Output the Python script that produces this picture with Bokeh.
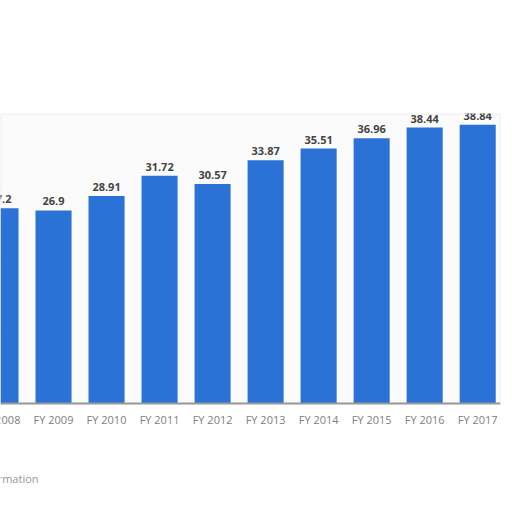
from bokeh.plotting import figure
from bokeh.models import (ColumnDataSource, FixedTicker, Range1d, LabelSet, Label,
                          Span, BoxAnnotation)
from bokeh.core.properties import value
from bokeh.embed import file_html
from bokeh.resources import INLINE

categories = ["FY 2008", "FY 2009", "FY 2010", "FY 2011", "FY 2012",
              "FY 2013", "FY 2014", "FY 2015", "FY 2016", "FY 2017"]
values = [27.2, 26.9, 28.91, 31.72, 30.57, 33.87, 35.51, 36.96, 38.44, 38.84]
labels = ["27.2", "26.9", "28.91", "31.72", "30.57", "33.87", "35.51", "36.96", "38.44", "38.84"]
y_ticks = [10, 20, 30, 40]
footer = "Additional Information"

xs = list(range(len(categories)))
src = ColumnDataSource(dict(x=xs, top=values, label=labels, cat=categories,
                            zero=[0] * len(xs)))

y_top = 40.4
p = figure(width=504, height=496, output_backend="svg", toolbar_location=None,
           x_range=Range1d(0.0, 9.43), y_range=Range1d(-12.96, y_top),
           x_axis_location=None, y_axis_location=None,
           min_border_left=0, min_border_right=4, min_border_top=113, min_border_bottom=0)

p.background_fill_color = "white"
p.border_fill_color = "white"
p.outline_line_color = None

# chart panel
p.add_layout(BoxAnnotation(bottom=0, top=y_top, fill_color="#fbfbfb", fill_alpha=1.0,
                           line_color="#cccccc", line_width=2, level="underlay"))

p.ygrid.ticker = FixedTicker(ticks=y_ticks)
p.ygrid.grid_line_color = "#cccccc"
p.ygrid.grid_line_dash = "1 2"
p.xgrid.visible = False

p.vbar(x="x", top="top", width=0.68, bottom=0, source=src,
       fill_color="#2a72d6", line_color=None)

p.add_layout(Span(location=0, dimension="width", line_color="#999999", line_width=2))

p.add_layout(LabelSet(x="x", y="top", text="label", source=src, text_align="center",
                      text_baseline="bottom", y_offset=5, text_font_size="11px",
                      text_font=value("Open Sans"), text_font_style="bold",
                      text_color="#444444"))

p.add_layout(LabelSet(x="x", y="zero", text="cat", source=src, text_align="center",
                      text_baseline="top", y_offset=-9, text_font_size="11px",
                      text_font=value("Open Sans"), text_color="#808080"))

p.add_layout(Label(x=-1.47, y=-10.45, text=footer, text_align="left", text_baseline="middle",
                   text_font="Open Sans", text_font_size="11px", text_color="#999999"))

open("out.html", "w").write(file_html(p, INLINE))
